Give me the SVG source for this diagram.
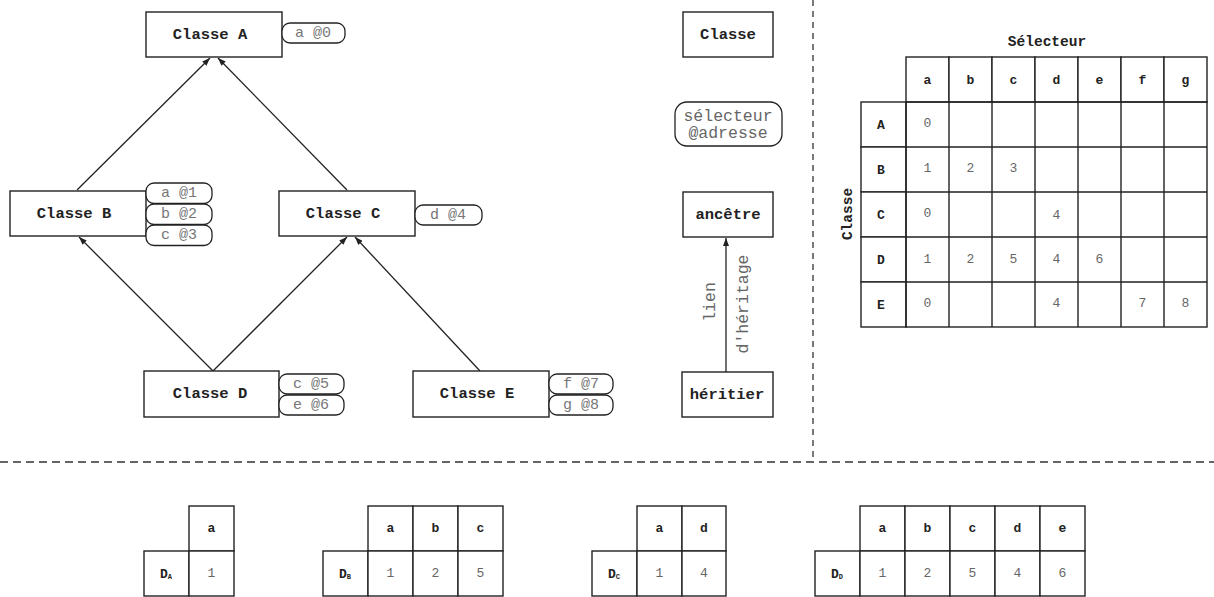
<svg xmlns="http://www.w3.org/2000/svg" width="1214" height="597" viewBox="0 0 1214 597">
<defs>
<marker id="ah" viewBox="0 0 8 6" refX="8" refY="3" markerWidth="8" markerHeight="6" markerUnits="userSpaceOnUse" orient="auto">
<path d="M0,0 L8,3 L0,6 z" fill="#222"/>
</marker>
<style>
.box{fill:#fff;stroke:#222;stroke-width:1.4}
.pill{fill:#fff;stroke:#222;stroke-width:1.3}
.cell{fill:#fff;stroke:#222;stroke-width:1.4}
.cn{font-family:"Liberation Mono","Courier New",monospace;font-weight:bold;font-size:15.5px;fill:#222;text-anchor:middle;dominant-baseline:central}
.pt{font-family:"Liberation Mono","Courier New",monospace;font-size:15px;fill:#777;text-anchor:middle;dominant-baseline:central}
.lg{font-family:"Liberation Mono","Courier New",monospace;font-size:16.5px;fill:#666;text-anchor:middle;dominant-baseline:central}
.th{font-family:"Liberation Mono","Courier New",monospace;font-weight:bold;font-size:13px;fill:#222;text-anchor:middle;dominant-baseline:central}
.tv{font-family:"Liberation Mono","Courier New",monospace;font-size:13px;fill:#666;text-anchor:middle;dominant-baseline:central}
.edge{stroke:#222;stroke-width:1.3;fill:none;marker-end:url(#ah)}
.dash{stroke:#333;stroke-width:1.3;fill:none}
</style>
</defs>
<rect width="1214" height="597" fill="#fff"/>

<g id="separators">
<line class="dash" x1="0" y1="462" x2="1214" y2="462" stroke-dasharray="8 5"/>
<line class="dash" x1="813" y1="0" x2="813" y2="462" stroke-dasharray="6 5"/>
</g>

<g id="connectors">
<line class="edge" x1="77" y1="190" x2="210" y2="58"/>
<line class="edge" x1="347" y1="190" x2="218" y2="58"/>
<line class="edge" x1="213" y1="371" x2="79" y2="237"/>
<line class="edge" x1="213" y1="371" x2="347" y2="237"/>
<line class="edge" x1="480" y1="371" x2="355" y2="237"/>
<line class="edge" x1="726" y1="372" x2="726" y2="238"/>
</g>

<g id="classA">
<rect class="box" x="146" y="12" width="136" height="45"/>
<text class="cn" x="210" y="35">Classe A</text>
<rect class="pill" x="282" y="23" width="63" height="20" rx="8"/>
<text class="pt" x="313" y="33">a @0</text>
</g>

<g id="classB">
<rect class="box" x="10" y="191" width="136" height="45"/>
<text class="cn" x="74" y="214">Classe B</text>
<rect class="pill" x="146" y="183" width="66" height="20.5" rx="8"/>
<text class="pt" x="179" y="193">a @1</text>
<rect class="pill" x="146" y="204" width="66" height="20.5" rx="8"/>
<text class="pt" x="179" y="214">b @2</text>
<rect class="pill" x="146" y="225" width="66" height="20.5" rx="8"/>
<text class="pt" x="179" y="235">c @3</text>
</g>

<g id="classC">
<rect class="box" x="279" y="191" width="136" height="45"/>
<text class="cn" x="343" y="214">Classe C</text>
<rect class="pill" x="415" y="205" width="67" height="20" rx="8"/>
<text class="pt" x="448" y="215">d @4</text>
</g>

<g id="classD">
<rect class="box" x="144" y="371" width="135" height="46"/>
<text class="cn" x="210" y="394">Classe D</text>
<rect class="pill" x="279" y="374" width="65" height="20" rx="8"/>
<text class="pt" x="311" y="384">c @5</text>
<rect class="pill" x="279" y="395" width="65" height="20" rx="8"/>
<text class="pt" x="311" y="405">e @6</text>
</g>

<g id="classE">
<rect class="box" x="413" y="371" width="136" height="46"/>
<text class="cn" x="477" y="394">Classe E</text>
<rect class="pill" x="549" y="374" width="64" height="20" rx="8"/>
<text class="pt" x="581" y="384">f @7</text>
<rect class="pill" x="549" y="395" width="64" height="20" rx="8"/>
<text class="pt" x="581" y="405">g @8</text>
</g>

<g id="legend-classe">
<rect class="box" x="683" y="12" width="90" height="45"/>
<text class="cn" x="728" y="35">Classe</text>
</g>
<g id="legend-selecteur">
<rect class="pill" x="675" y="102" width="107" height="44" rx="12"/>
<text class="lg" x="728" y="116">sélecteur</text>
<text class="lg" x="728" y="133">@adresse</text>
</g>
<g id="legend-ancetre">
<rect class="box" x="683" y="192" width="90" height="45"/>
<text class="cn" x="728" y="215">ancêtre</text>
</g>
<g id="legend-heritier">
<rect class="box" x="682" y="372" width="91" height="45"/>
<text class="cn" x="727" y="395">héritier</text>
</g>
<g id="legend-label">
<text class="lg" transform="translate(710,302) rotate(-90)">lien</text>
<text class="lg" transform="translate(743,304) rotate(-90)">d'héritage</text>
</g>

<g id="table-main">
<text class="cn" x="1047" y="42" style="font-size:14.5px">Sélecteur</text>
<text class="cn" style="font-size:14.5px" transform="translate(848,214) rotate(-90)">Classe</text>
<g>
<rect class="cell" x="906" y="57" width="43" height="45"/>
<rect class="cell" x="949" y="57" width="43" height="45"/>
<rect class="cell" x="992" y="57" width="43" height="45"/>
<rect class="cell" x="1035" y="57" width="43" height="45"/>
<rect class="cell" x="1078" y="57" width="43" height="45"/>
<rect class="cell" x="1121" y="57" width="43" height="45"/>
<rect class="cell" x="1164" y="57" width="43" height="45"/>
<text class="th" x="927.5" y="80">a</text>
<text class="th" x="970.5" y="80">b</text>
<text class="th" x="1013.5" y="80">c</text>
<text class="th" x="1056.5" y="80">d</text>
<text class="th" x="1099.5" y="80">e</text>
<text class="th" x="1142.5" y="80">f</text>
<text class="th" x="1185.5" y="80">g</text>
</g>
<g>
<rect class="cell" x="861" y="102" width="45" height="45"/>
<rect class="cell" x="861" y="147" width="45" height="45"/>
<rect class="cell" x="861" y="192" width="45" height="45"/>
<rect class="cell" x="861" y="237" width="45" height="45"/>
<rect class="cell" x="861" y="282" width="45" height="45"/>
<text class="th" x="881" y="125">A</text>
<text class="th" x="881" y="170">B</text>
<text class="th" x="881" y="215">C</text>
<text class="th" x="881" y="260">D</text>
<text class="th" x="881" y="305">E</text>
</g>
<g>
<rect class="cell" x="906" y="102" width="301" height="225" style="fill:none"/>
<path class="cell" style="fill:none" d="M906,147 H1207 M906,192 H1207 M906,237 H1207 M906,282 H1207 M949,102 V327 M992,102 V327 M1035,102 V327 M1078,102 V327 M1121,102 V327 M1164,102 V327"/>
</g>
<g>
<text class="tv" x="927.5" y="123">0</text>
<text class="tv" x="927.5" y="168">1</text>
<text class="tv" x="970.5" y="168">2</text>
<text class="tv" x="1013.5" y="168">3</text>
<text class="tv" x="927.5" y="213">0</text>
<text class="tv" x="1056.5" y="215">4</text>
<text class="tv" x="927.5" y="259">1</text>
<text class="tv" x="970.5" y="259">2</text>
<text class="tv" x="1013.5" y="259">5</text>
<text class="tv" x="1056.5" y="259">4</text>
<text class="tv" x="1099.5" y="259">6</text>
<text class="tv" x="927.5" y="303">0</text>
<text class="tv" x="1056.5" y="303">4</text>
<text class="tv" x="1142.5" y="303">7</text>
<text class="tv" x="1185.5" y="303">8</text>
</g>
</g>

<g id="table-DA">
<rect class="cell" x="189" y="506" width="45" height="45"/>
<rect class="cell" x="144" y="551" width="45" height="45"/>
<rect class="cell" x="189" y="551" width="45" height="45"/>
<text class="th" x="211.5" y="528">a</text>
<text class="th" x="166" y="574">D<tspan style="font-size:7px" dy="3">A</tspan></text>
<text class="tv" x="211.5" y="573">1</text>
</g>

<g id="table-DB">
<rect class="cell" x="368" y="506" width="45" height="45"/>
<rect class="cell" x="413" y="506" width="45" height="45"/>
<rect class="cell" x="458" y="506" width="45" height="45"/>
<rect class="cell" x="323" y="551" width="45" height="45"/>
<rect class="cell" x="368" y="551" width="45" height="45"/>
<rect class="cell" x="413" y="551" width="45" height="45"/>
<rect class="cell" x="458" y="551" width="45" height="45"/>
<text class="th" x="390.5" y="528">a</text>
<text class="th" x="435.5" y="528">b</text>
<text class="th" x="480.5" y="528">c</text>
<text class="th" x="345" y="574">D<tspan style="font-size:7px" dy="3">B</tspan></text>
<text class="tv" x="390.5" y="573">1</text>
<text class="tv" x="435.5" y="573">2</text>
<text class="tv" x="480.5" y="573">5</text>
</g>

<g id="table-DC">
<rect class="cell" x="637" y="506" width="45" height="45"/>
<rect class="cell" x="682" y="506" width="44" height="45"/>
<rect class="cell" x="592" y="551" width="45" height="45"/>
<rect class="cell" x="637" y="551" width="45" height="45"/>
<rect class="cell" x="682" y="551" width="44" height="45"/>
<text class="th" x="659.5" y="528">a</text>
<text class="th" x="704" y="528">d</text>
<text class="th" x="614" y="574">D<tspan style="font-size:7px" dy="3">C</tspan></text>
<text class="tv" x="659.5" y="573">1</text>
<text class="tv" x="704" y="573">4</text>
</g>

<g id="table-DD">
<rect class="cell" x="860" y="506" width="45" height="45"/>
<rect class="cell" x="905" y="506" width="45" height="45"/>
<rect class="cell" x="950" y="506" width="45" height="45"/>
<rect class="cell" x="995" y="506" width="45" height="45"/>
<rect class="cell" x="1040" y="506" width="45" height="45"/>
<rect class="cell" x="815" y="551" width="45" height="45"/>
<rect class="cell" x="860" y="551" width="45" height="45"/>
<rect class="cell" x="905" y="551" width="45" height="45"/>
<rect class="cell" x="950" y="551" width="45" height="45"/>
<rect class="cell" x="995" y="551" width="45" height="45"/>
<rect class="cell" x="1040" y="551" width="45" height="45"/>
<text class="th" x="882.5" y="528">a</text>
<text class="th" x="927.5" y="528">b</text>
<text class="th" x="972.5" y="528">c</text>
<text class="th" x="1017.5" y="528">d</text>
<text class="th" x="1062.5" y="528">e</text>
<text class="th" x="837" y="574">D<tspan style="font-size:7px" dy="3">D</tspan></text>
<text class="tv" x="882.5" y="573">1</text>
<text class="tv" x="927.5" y="573">2</text>
<text class="tv" x="972.5" y="573">5</text>
<text class="tv" x="1017.5" y="573">4</text>
<text class="tv" x="1062.5" y="573">6</text>
</g>
</svg>
